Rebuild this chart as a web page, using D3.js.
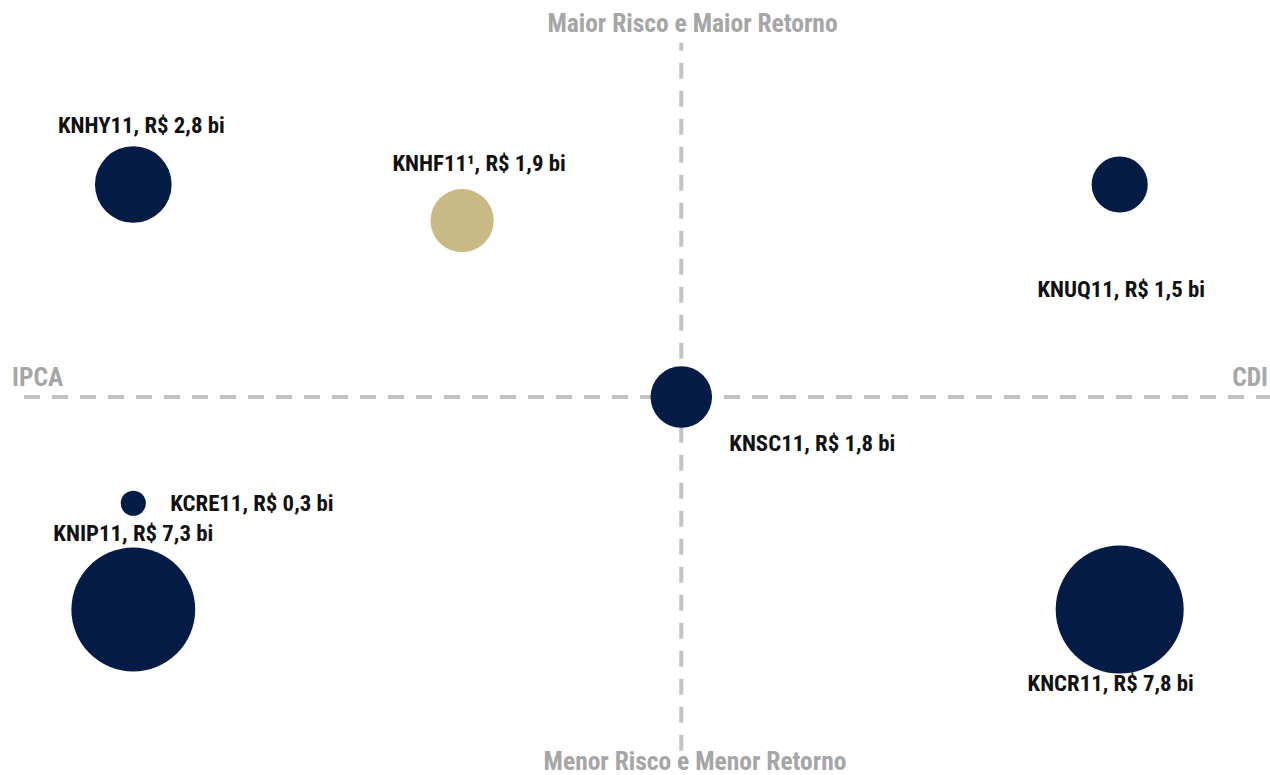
<!DOCTYPE html>
<html>
<head>
<meta charset="utf-8">
<script src="https://cdn.jsdelivr.net/npm/d3@7/dist/d3.min.js"></script>
<style>
  html, body { margin: 0; padding: 0; background: #fff; }
  svg { display: block; }
</style>
</head>
<body>
<svg id="chart"></svg>
<script>
// fund data
var funds   = ['KNHY11', 'KNHF11¹', 'KNUQ11', 'KNSC11', 'KCRE11', 'KNIP11', 'KNCR11'];
var aum     = [2.8, 1.9, 1.5, 1.8, 0.3, 7.3, 7.8];          // R$ bi
var indexer = [-1, -0.4, 0.8, 0, -1, -1, 0.8];             // -1 = IPCA ... +1 = CDI
var risk    = [1, 0.83, 1, 0, -0.5, -1, -1];               // +1 = maior risco
var group   = ['core', 'new', 'core', 'core', 'core', 'core', 'core'];

var axisLabels = {
  top: 'Maior Risco e Maior Retorno',
  bottom: 'Menor Risco e Menor Retorno',
  left: 'IPCA',
  right: 'CDI'
};

(function() {
  'use strict';

  var WIDTH = 1270, HEIGHT = 775;
  var FONT = '"Roboto Condensed", "DejaVu Sans Condensed", sans-serif';

  var svg = d3.select('#chart').attr('width', WIDTH).attr('height', HEIGHT);

  var center = { x: 681.3, y: 397 };

  var x = d3.scaleLinear().domain([-1, 1]).range([center.x - 548, center.x + 548]);
  var y = d3.scaleLinear().domain([-1, 1]).range([center.y + 212.5, center.y - 212.5]);
  var r = d3.scaleSqrt().domain([0, 7.8]).range([0, 64]);
  var color = d3.scaleOrdinal().domain(['core', 'new']).range(['#041c45', '#c9b985']);

  // label placement relative to bubble centre
  var labelLayout = {
    'KNHY11':  { dx: 8,   dy: -52, anchor: 'middle' },
    'KNHF11¹': { dx: 17,  dy: -50, anchor: 'middle' },
    'KNUQ11':  { dx: 1.5, dy: 112, anchor: 'middle' },
    'KNSC11':  { dx: 48,  dy: 54,  anchor: 'start' },
    'KCRE11':  { dx: 37,  dy: 8,   anchor: 'start' },
    'KNIP11':  { dx: 0,   dy: -69, anchor: 'middle' },
    'KNCR11':  { dx: -9,  dy: 81,  anchor: 'middle' }
  };

  var data = funds.map(function(f, i) {
    return { name: f, aum: aum[i], x: indexer[i], y: risk[i], group: group[i] };
  });

  var fmt = function(v) { return d3.format('.1f')(v).replace('.', ','); };

  // quadrant axes
  var axisColor = '#c3c3c3';
  svg.append('line')
    .attr('x1', 24).attr('x2', WIDTH)
    .attr('y1', center.y).attr('y2', center.y)
    .attr('stroke', axisColor).attr('stroke-width', 4)
    .attr('stroke-dasharray', '16,12');

  svg.append('line')
    .attr('x1', center.x).attr('x2', center.x)
    .attr('y1', 42.7).attr('y2', 750.7)
    .attr('stroke', axisColor).attr('stroke-width', 4)
    .attr('stroke-dasharray', '16,12')
    .attr('stroke-dashoffset', 8);

  var titleStyle = function(sel) {
    sel.attr('font-family', FONT).attr('font-weight', 700)
      .attr('font-size', 25.5).attr('fill', '#a6a6a6');
  };

  svg.append('text').text(axisLabels.top)
    .attr('x', 692.5).attr('y', 31.5).attr('text-anchor', 'middle').call(titleStyle);
  svg.append('text').text(axisLabels.bottom)
    .attr('x', 695).attr('y', 769.5).attr('text-anchor', 'middle').call(titleStyle);
  svg.append('text').text(axisLabels.left)
    .attr('x', 12).attr('y', 386).attr('text-anchor', 'start').call(titleStyle);
  svg.append('text').text(axisLabels.right)
    .attr('x', 1268).attr('y', 386).attr('text-anchor', 'end').call(titleStyle);

  // bubbles
  svg.selectAll('.bubble').data(data).enter()
    .append('circle')
      .attr('class', 'bubble')
      .attr('cx', d => x(d.x))
      .attr('cy', d => y(d.y))
      .attr('r', d => r(d.aum))
      .attr('fill', d => color(d.group));

  // labels
  svg.selectAll('.label').data(data).enter()
    .append('text')
      .attr('class', 'label')
      .attr('x', d => x(d.x) + labelLayout[d.name].dx)
      .attr('y', d => y(d.y) + labelLayout[d.name].dy)
      .attr('text-anchor', d => labelLayout[d.name].anchor)
      .attr('font-family', FONT)
      .attr('font-weight', 700)
      .attr('font-size', 22.8)
      .attr('fill', '#111')
      .text(d => d.name + ', R$ ' + fmt(d.aum) + ' bi');
})();
</script>
</body>
</html>
